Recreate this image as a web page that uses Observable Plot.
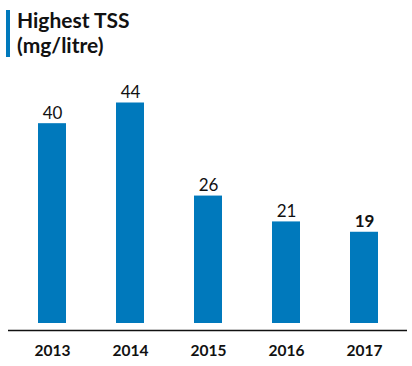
<!DOCTYPE html>
<html>
<head>
<meta charset="utf-8">
<script src="https://cdn.jsdelivr.net/npm/d3@7"></script>
<script src="https://cdn.jsdelivr.net/npm/@observablehq/plot@0.6"></script>
<style>
  html, body { margin: 0; padding: 0; background: #fff; }
  body { width: 412px; height: 366px; overflow: hidden; font-family: Lato, "Noto Sans", sans-serif; }
  #title { position: relative; height: 62px; }
  #title .accent { position: absolute; left: 6px; top: 10px; width: 4px; height: 47px; background: #0079BC; }
  #title .txt { position: absolute; left: 17px; top: 7px; font-size: 21px; font-weight: 700; line-height: 25px; color: #111; }
</style>
</head>
<body>
<div id="title"><div class="accent"></div><div class="txt">Highest TSS<br>(mg/litre)</div></div>
<div id="chart"></div>
<script>
const years = ["2013", "2014", "2015", "2016", "2017"];
const values = [40, 44, 26, 21, 19];
const highlight = [false, false, false, false, true];

const data = years.map((y, i) => ({year: y, value: values[i], bold: highlight[i]}));

const chart = Plot.plot({
  width: 412,
  height: 304,
  marginLeft: 8,
  marginRight: 5,
  marginTop: 40.5,
  marginBottom: 36,
  style: {fontFamily: "Lato, 'Noto Sans', sans-serif", color: "#111", background: "#fff"},
  x: {domain: years, paddingInner: 0.645, paddingOuter: 0.356, label: null},
  y: {domain: [0, 44], axis: null},
  marks: [
    Plot.barY(data, {x: "year", y: "value", fill: "#0079BC", insetBottom: 7}),
    Plot.ruleY([0], {stroke: "#111", strokeWidth: 1.3}),
    Plot.text(data.filter(d => !d.bold), {x: "year", y: "value", text: d => String(d.value), lineAnchor: "bottom", dy: -5, fontSize: 17, fill: "#111"}),
    Plot.text(data.filter(d => d.bold), {x: "year", y: "value", text: d => String(d.value), lineAnchor: "bottom", dy: -5, fontSize: 17, fontWeight: 700, fill: "#111"}),
    Plot.axisX({tickSize: 0, tickPadding: 14, fontSize: 15.5, fontWeight: 700, label: null, fill: "#111"})
  ]
});
document.getElementById("chart").appendChild(chart);
</script>
</body>
</html>
